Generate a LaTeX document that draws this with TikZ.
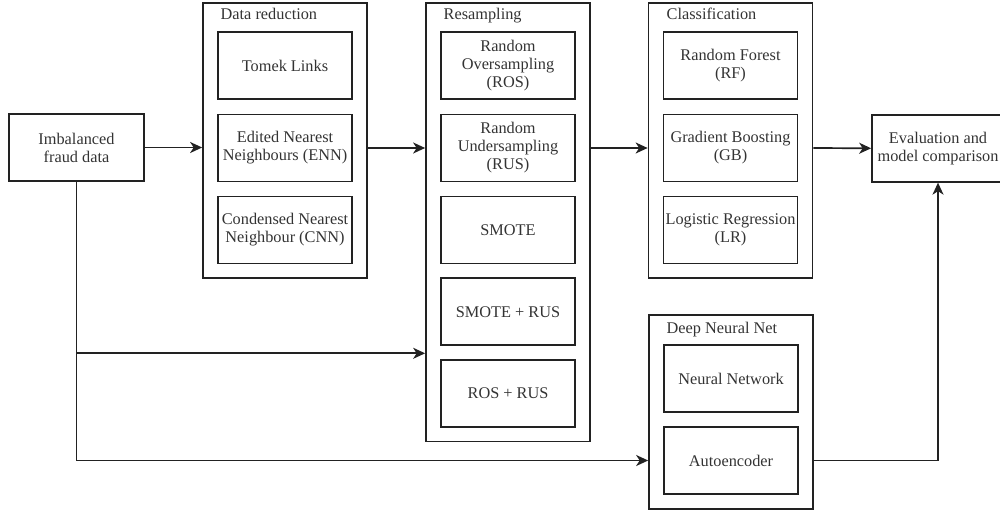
\documentclass[tikz,border=0pt]{standalone}
\usepackage{fontspec}
\setmainfont{Liberation Serif}
\usetikzlibrary{arrows.meta}
\definecolor{linec}{HTML}{222222}
\definecolor{textc}{HTML}{333333}
\tikzset{
  box/.style={draw=linec, line width=1.7pt, inner sep=0pt, align=center, text=textc,
    font=\fontsize{16.3}{18}\selectfont},
  inner/.style={box, minimum width=134pt, minimum height=67pt},
  outer/.style={draw=linec, line width=1.7pt, inner sep=0pt, minimum width=164pt},
  title/.style={anchor=base west, inner sep=0pt, text=textc, font=\fontsize{16.3}{18}\selectfont},
  arr/.style={draw=linec, line width=1.7pt, -{Stealth[length=12pt,width=11pt,inset=3.5pt]}},
  ln/.style={draw=linec, line width=1.7pt}
}
\begin{document}
\begin{tikzpicture}[x=1pt,y=-1pt]
\useasboundingbox (0,0) rectangle (1000,511);
% outer groups
\node[outer, minimum height=275pt] (dr) at (285,140.5) {};
\node[outer, minimum height=438.5pt] (res) at (508,222.2) {};
\node[outer, minimum height=275pt] (cls) at (730.5,140.5) {};
\node[outer, minimum height=194pt] (dnn) at (731,412) {};
% titles
\node[title] (drt) at (220.5,20) {Data reduction};
\node[title] (rest) at (443.5,20) {Resampling};
\node[title] (clst) at (666.5,20) {Classification};
\node[title] (dnnt) at (666.5,333) {Deep Neural Net};
% input / output
\node[box, minimum width=135pt, minimum height=67pt] (imb) at (76.5,147.5) {Imbalanced\\fraud data};
\node[box, minimum width=132pt, minimum height=67pt] (eval) at (938,148.3) {Evaluation and\\model comparison};
% data reduction
\node[inner] (tomek) at (285,65.5) {Tomek Links};
\node[inner] (enn) at (285,148) {Edited Nearest\\Neighbours (ENN)};
\node[inner] (cnn) at (285,230) {Condensed Nearest\\Neighbour (CNN)};
% resampling
\node[inner] (ros) at (508,65.5) {Random\\Oversampling\\(ROS)};
\node[inner] (rus) at (508,148) {Random\\Undersampling\\(RUS)};
\node[inner] (smote) at (508,230) {SMOTE};
\node[inner] (smrus) at (508,311.8) {SMOTE + RUS};
\node[inner] (rosrus) at (508,393.4) {ROS + RUS};
% classification
\node[inner] (rf) at (730.5,65.5) {Random Forest\\(RF)};
\node[inner] (gb) at (730.5,148) {Gradient Boosting\\(GB)};
\node[inner] (lr) at (730.5,230) {Logistic Regression\\(LR)};
% deep neural net
\node[inner] (nn) at (731,378.5) {Neural Network};
\node[inner] (auto) at (731,460.5) {Autoencoder};
% connectors
\coordinate (j1) at (76.5,353.3);
\draw[arr] (imb.east) -- (imb.east -| dr.west);
\draw[arr] (dr.east |- enn) -- (res.west |- enn);
\draw[arr] (res.east |- rus) -- (cls.west |- rus);
\draw[arr] (cls.east |- gb) -- (eval.west);
\draw[arr] (imb.south) |- (dnn.west |- auto);
\draw[arr] (j1) -- (j1 -| res.west);
\draw[arr] (dnn.east |- auto) -| (eval.south);
\end{tikzpicture}
\end{document}
